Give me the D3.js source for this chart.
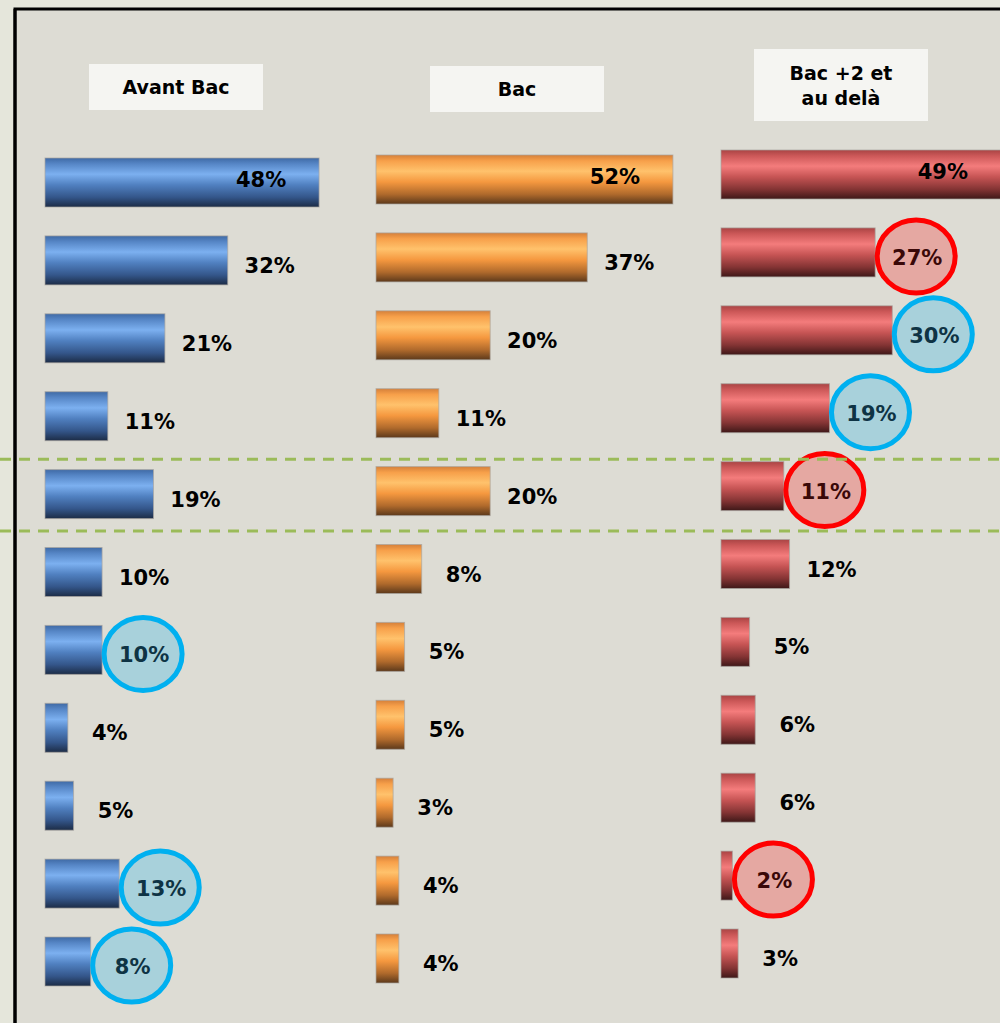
<!DOCTYPE html>
<html>
<head>
<meta charset="utf-8">
<script src="https://cdn.jsdelivr.net/npm/d3@7"></script>
<style>
  html, body { margin: 0; padding: 0; background: #e5e6db; }
  svg { display: block; }
  text { font-family: "DejaVu Sans", Verdana, sans-serif; font-weight: bold; }
</style>
</head>
<body>
<svg id="chart" width="1000" height="1023"></svg>
<script>
// ---- data ----
const categories = ["r1","r2","r3","r4","r5","r6","r7","r8","r9","r10","r11"];
const groupNames = ["Avant Bac", "Bac", "Bac +2 et au delà"];
const headerLines = [["Avant Bac"], ["Bac"], ["Bac +2 et", "au delà"]];
const avantBacValues = [48, 32, 21, 11, 19, 10, 10, 4, 5, 13, 8];
const bacValues      = [52, 37, 20, 11, 20, 8, 5, 5, 3, 4, 4];
const bacPlus2Values = [49, 27, 30, 19, 11, 12, 5, 6, 6, 2, 3];
const avantBacMarks  = ["", "", "", "", "", "", "blue", "", "", "blue", "blue"];
const bacMarks       = ["", "", "", "", "", "", "", "", "", "", ""];
const bacPlus2Marks  = ["", "red", "blue", "blue", "red", "", "", "", "", "red", ""];

// ---- layout ----
const svg = d3.select("#chart");
const W = 1000, H = 1023;
const pxPerPct = 5.71;
const step = 77.9, barH = 49;

const panels = [
  { name: groupNames[0], lines: headerLines[0], values: avantBacValues, marks: avantBacMarks,
    x0: 45, top: 158, grad: "gBlue", box: { cx: 176, y: 64, h: 46 } },
  { name: groupNames[1], lines: headerLines[1], values: bacValues, marks: bacMarks,
    x0: 376, top: 155, grad: "gOrange", box: { cx: 517, y: 66, h: 46 } },
  { name: groupNames[2], lines: headerLines[2], values: bacPlus2Values, marks: bacPlus2Marks,
    x0: 721, top: 150, grad: "gRed", box: { cx: 841, y: 49, h: 72 } }
];

const defs = svg.append("defs");
function grad(id, stops) {
  const g = defs.append("linearGradient").attr("id", id)
    .attr("x1", 0).attr("y1", 0).attr("x2", 0).attr("y2", 1);
  stops.forEach(([o, c]) => g.append("stop").attr("offset", o).attr("stop-color", c));
}
grad("gBlue", [[0, "#3f6aa5"], [0.12, "#5686c6"], [0.33, "#7cb0f0"], [0.55, "#5080c0"], [0.8, "#34568a"], [1, "#1c2c46"]]);
grad("gOrange", [[0, "#d5803a"], [0.12, "#f7a04a"], [0.33, "#ffc26c"], [0.55, "#f5983f"], [0.8, "#b06a2c"], [1, "#5c391b"]]);
grad("gRed", [[0, "#a94444"], [0.12, "#cc5858"], [0.33, "#f47c7c"], [0.55, "#c65454"], [0.8, "#843434"], [1, "#3e1818"]]);

// frame
svg.append("rect").attr("x", 0).attr("y", 0).attr("width", W).attr("height", H).attr("fill", "#e5e6db");
svg.append("rect").attr("x", 15).attr("y", 9).attr("width", W + 20).attr("height", H + 20)
  .attr("fill", "#dddcd4").attr("stroke", "#000").attr("stroke-width", 3);

// separators (between rows 4/5 and 5/6), based on first panel band
const sepScale = d3.scaleBand().domain(categories)
  .range([panels[0].top - (step - barH) / 2, panels[0].top - (step - barH) / 2 + categories.length * step])
  .paddingInner((step - barH) / step).paddingOuter((step - barH) / step / 2);
const sepYs = [
  (sepScale(categories[3]) + barH + sepScale(categories[4])) / 2 + 4,
  (sepScale(categories[4]) + barH + sepScale(categories[5])) / 2 - 2
];

const x = d3.scaleLinear().domain([0, 100]).range([0, 100 * pxPerPct]);

panels.forEach(p => {
  const y = d3.scaleBand().domain(categories)
    .range([p.top - (step - barH) / 2, p.top - (step - barH) / 2 + categories.length * step])
    .paddingInner((step - barH) / step).paddingOuter((step - barH) / step / 2);

  const g = svg.append("g").attr("transform", `translate(${p.x0},0)`);

  // header box
  const hb = svg.append("g");
  hb.append("rect").attr("x", p.box.cx - 87).attr("y", p.box.y).attr("width", 174).attr("height", p.box.h)
    .attr("fill", "#f5f5f2");
  const lh = 25;
  const firstBase = p.box.y + p.box.h / 2 + 7 - (p.lines.length - 1) * lh / 2;
  p.lines.forEach((ln, i) => {
    hb.append("text").attr("x", p.box.cx).attr("y", firstBase + i * lh)
      .attr("text-anchor", "middle").attr("font-size", 19).attr("fill", "#000").text(ln);
  });

  const rows = categories.map((c, i) => ({ c, v: p.values[i], m: p.marks[i] }));

  g.selectAll("rect.bar").data(rows).join("rect").attr("class", "bar")
    .attr("x", x(0)).attr("y", d => y(d.c))
    .attr("width", d => x(d.v)).attr("height", y.bandwidth())
    .attr("fill", `url(#${p.grad})`)
    .attr("stroke", "rgba(170,165,160,0.7)").attr("stroke-width", 1);

  const inside = d => d.v >= 40;
  const lx = d => inside(d) ? x(d.v) - 58 : x(d.v) + 42;
  const ly = d => y(d.c) + y.bandwidth() / 2 + (inside(d) ? -3 : 5);

  g.selectAll("ellipse.mark").data(rows.filter(d => d.m)).join("ellipse").attr("class", "mark")
    .attr("cx", d => x(d.v) + 41).attr("cy", d => y(d.c) + y.bandwidth() / 2 + 4)
    .attr("rx", 39).attr("ry", 36.5)
    .attr("fill", d => d.m === "blue" ? "#a8d1db" : "#e5a8a2")
    .attr("stroke", d => d.m === "blue" ? "#00b0f0" : "#ff0000")
    .attr("stroke-width", 5);

  g.selectAll("text.lbl").data(rows).join("text").attr("class", "lbl")
    .attr("x", lx).attr("y", ly).attr("dy", "0.36em")
    .attr("text-anchor", "middle").attr("font-size", 21)
    .attr("fill", d => d.m === "blue" ? "#0e3344" : d.m === "red" ? "#3a0808" : "#000")
    .text(d => d.v + "%");
});

// dashed separators drawn on top
svg.selectAll("line.sep").data(sepYs).join("line").attr("class", "sep")
  .attr("x1", 0).attr("x2", W).attr("y1", d => d).attr("y2", d => d)
  .attr("stroke", "#9bbb59").attr("stroke-width", 3).attr("stroke-dasharray", "11,8");

// redraw left border segment over the dashed lines
svg.append("line").attr("x1", 15).attr("x2", 15).attr("y1", 9).attr("y2", H)
  .attr("stroke", "#000").attr("stroke-width", 3);
</script>
</body>
</html>
